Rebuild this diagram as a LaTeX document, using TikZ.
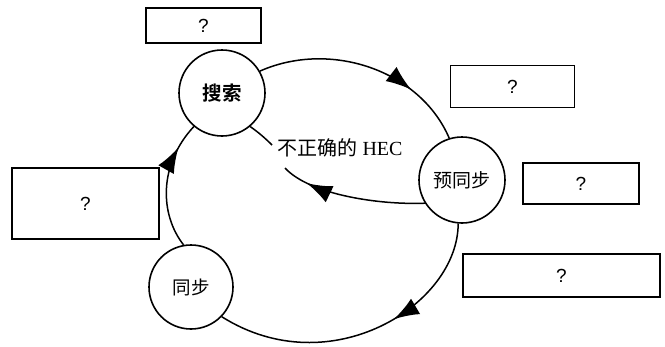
\documentclass[tikz,border=0pt]{standalone}
\usepackage{fontspec}
\setmainfont{Liberation Serif}
\newfontfamily\cjk{Noto Sans CJK SC}
\newfontfamily\cjkb{Noto Sans CJK SC Bold}
\newfontfamily\qsans{Liberation Sans}
\usetikzlibrary{arrows.meta,decorations.markings}
\begin{document}
\begin{tikzpicture}[x=1pt,y=-1pt,
  >={Latex[length=17pt,width=12pt]},
  state/.style={circle,draw,line width=1.6pt,minimum size=86pt,inner sep=0pt},
  qbox/.style={rectangle,draw,line width=1.5pt,inner sep=0pt,font=\qsans\fontsize{19}{21}\selectfont},
  flow/.style={line width=1.5pt},
  midarrow/.style={postaction={decorate},decoration={markings,mark=at position #1 with {\arrow[scale=1.5]{>}}}}
]
\useasboundingbox (0,0) rectangle (665,346);
% states
\node[state,font=\cjkb\fontsize{19.5}{21}\selectfont] (ss) at (222,93) {搜索};
\node[state,font=\cjk\fontsize{19}{21}\selectfont] (yts) at (462,180) {预同步};
\node[state,minimum size=84pt,font=\cjk\fontsize{18.5}{21}\selectfont] (tb) at (191,287) {同步};
% boxes
\node[qbox,minimum width=115pt,minimum height=35pt] (b1) at (203.5,25.5) {?};
\node[qbox,minimum width=124pt,minimum height=42pt] (b2) at (512.5,86.5) {?};
\node[qbox,minimum width=116pt,minimum height=41pt] (b3) at (581,183.5) {?};
\node[qbox,minimum width=197pt,minimum height=43pt] (b4) at (561.5,275.5) {?};
\node[qbox,minimum width=147pt,minimum height=71pt] (b5) at (85.5,203.5) {?};
% label
\node[font=\fontsize{20}{22}\selectfont,inner sep=0pt] (lab) at (340,148) {{\cjk 不正确的} HEC};
\coordinate (l1) at (285,168);
\coordinate (l2) at (272,145);
% connectors
\draw[flow,midarrow=0.72] (ss.30) .. controls (330,40) and (420,70) .. (yts.107);
\draw[flow,midarrow=0.4] (yts.-95) .. controls (458,305) and (330,385) .. (tb.-44);
\draw[flow,midarrow=0.8] (tb.100) .. controls (160,215) and (158,165) .. (ss.-130);
\draw[flow,midarrow=0.82] (yts.212) .. controls (380,205) and (310,195) .. (l1);
\draw[flow] (l2) .. controls (265,138) and (258,132) .. (ss.-50);
\end{tikzpicture}
\end{document}
